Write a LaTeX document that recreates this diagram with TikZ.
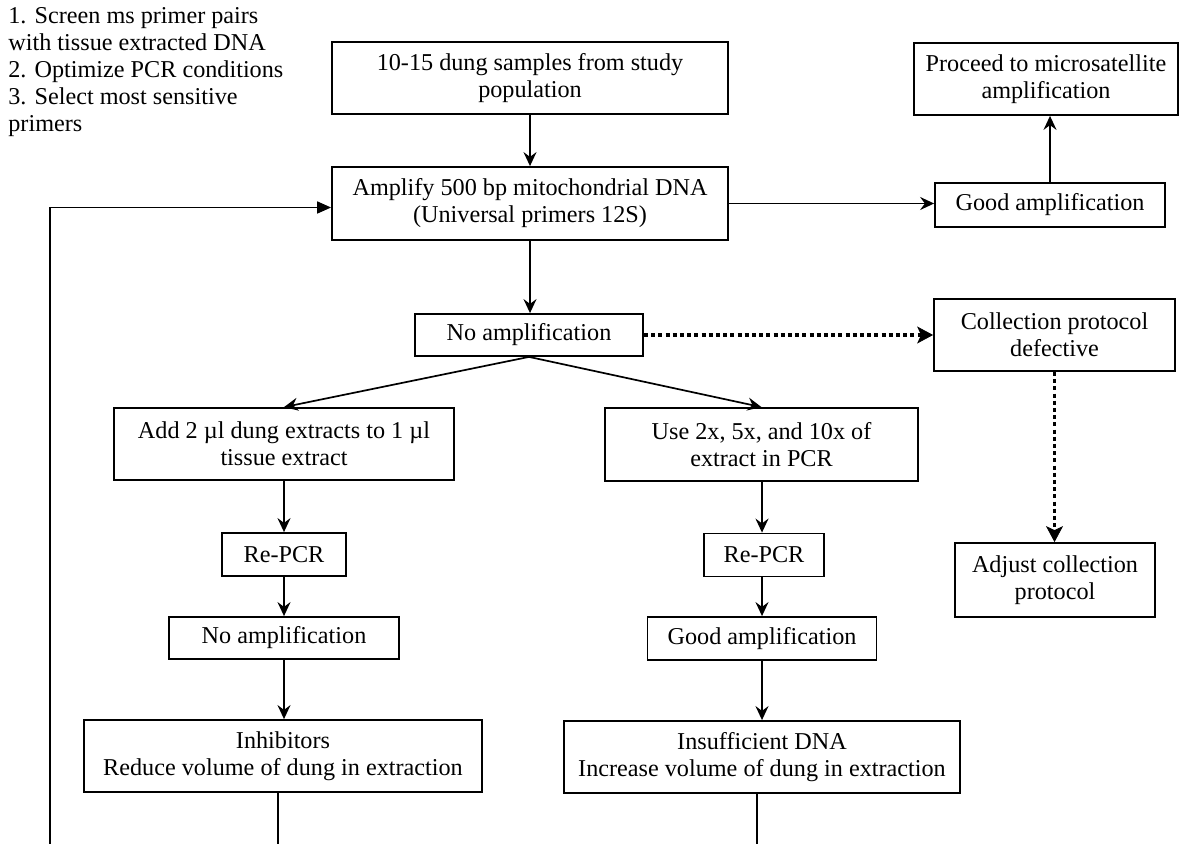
\documentclass[tikz,border=0pt]{standalone}
\usepackage{fontspec}
\setmainfont{Liberation Serif}
\usetikzlibrary{arrows.meta,calc}
\newcommand{\boxfont}{\fontsize{12.1pt}{13.5pt}\selectfont}
\tikzset{
  bx/.style={draw, line width=0.9pt, inner sep=0pt, align=center, font=\boxfont},
  arr/.style={line width=0.85pt, -{Stealth[length=7pt,width=6.5pt,inset=2.4pt]}},
  tri/.style={line width=0.85pt, -{Triangle[length=7pt,width=6pt]}},
  plain/.style={line width=0.85pt},
  dots/.style={line width=1.8pt, dash pattern=on 2pt off 1.6pt, -{Stealth[length=8pt,width=8.5pt,inset=2pt,line width=0.4pt]}},
}
\begin{document}
\begin{tikzpicture}[x=0.5pt,y=-0.5pt]
\fill[white] (0,0) rectangle (1181,844);
\useasboundingbox (0,0) rectangle (1181,844);

\node[anchor=north west, inner sep=0pt, align=left, font=\boxfont] (notes) at (8,7)
  {1. Screen ms primer pairs\\with tissue extracted DNA\\2. Optimize PCR conditions\\3. Select most sensitive\\primers};

\node[bx, minimum width=198pt, minimum height=36pt] (top) at (530,78) {10-15 dung samples from study\\population};
\node[bx, minimum width=198pt, minimum height=36.5pt] (amp) at (530,203.5) {Amplify 500 bp mitochondrial DNA\\(Universal primers 12S)};
\node[bx, minimum width=132pt, minimum height=36pt] (proceed) at (1046,79) {Proceed to microsatellite\\amplification};
\node[bx, minimum width=115pt, minimum height=22pt] (good1) at (1050,205) {Good amplification};
\node[bx, minimum width=114pt, minimum height=21pt] (noamp) at (529,335) {No amplification};
\node[bx, minimum width=120.5pt, minimum height=36pt] (coll) at (1054.5,335) {Collection protocol\\defective};
\node[bx, minimum width=170pt, minimum height=36pt] (add) at (284,444) {Add 2 µl dung extracts to 1 µl\\tissue extract};
\node[bx, minimum width=156.5pt, minimum height=36.5pt] (use) at (761.5,444.5) {Use 2x, 5x, and 10x of\\extract in PCR};
\node[bx, minimum width=62pt, minimum height=21.5pt] (rpcr1) at (284,554.5) {Re-PCR};
\node[bx, minimum width=60pt, minimum height=21.5pt] (rpcr2) at (764,555) {Re-PCR};
\node[bx, minimum width=115pt, minimum height=21pt] (noamp2) at (284,638) {No amplification};
\node[bx, minimum width=114.5pt, minimum height=21.5pt] (good2) at (762,638.5) {Good amplification};
\node[bx, minimum width=100pt, minimum height=37pt] (adjust) at (1055,580) {Adjust collection\\protocol};
\node[bx, minimum width=199pt, minimum height=36pt] (inhib) at (283,756) {Inhibitors\\Reduce volume of dung in extraction};
\node[bx, minimum width=198pt, minimum height=36pt] (insuf) at (762,757) {Insufficient DNA\\Increase volume of dung in extraction};

\coordinate (e0) at (50,846);
\coordinate (e1) at (278,846);
\coordinate (e2) at (757,846);

\draw[arr] (top.south) -- (top.south |- amp.north);
\draw[arr] (amp.east) -- (amp.east -| good1.west);
\draw[arr] (good1.north) -- (good1.north |- proceed.south);
\draw[arr] (amp.south) -- (amp.south |- noamp.north);
\draw[dots] (noamp.east) -- (noamp.east -| coll.west);
\draw[dots] (coll.south) -- (coll.south |- adjust.north);
\draw[arr] (noamp.south) -- (add.north);
\draw[arr] (noamp.south) -- (use.north);
\draw[arr] (add.south) -- (add.south |- rpcr1.north);
\draw[arr] (rpcr1.south) -- (rpcr1.south |- noamp2.north);
\draw[arr] (noamp2.south) -- (noamp2.south |- inhib.north);
\draw[arr] (use.south -| good2.north) -- (good2.north |- rpcr2.north);
\draw[arr] (good2.north |- rpcr2.south) -- (good2.north);
\draw[arr] (good2.south) -- (good2.south |- insuf.north);
\draw[plain] (e1 |- inhib.south) -- (e1);
\draw[plain] (e2 |- insuf.south) -- (e2);
\draw[tri] (e0) |- ([yshift=-2pt]amp.west);
\end{tikzpicture}
\end{document}
